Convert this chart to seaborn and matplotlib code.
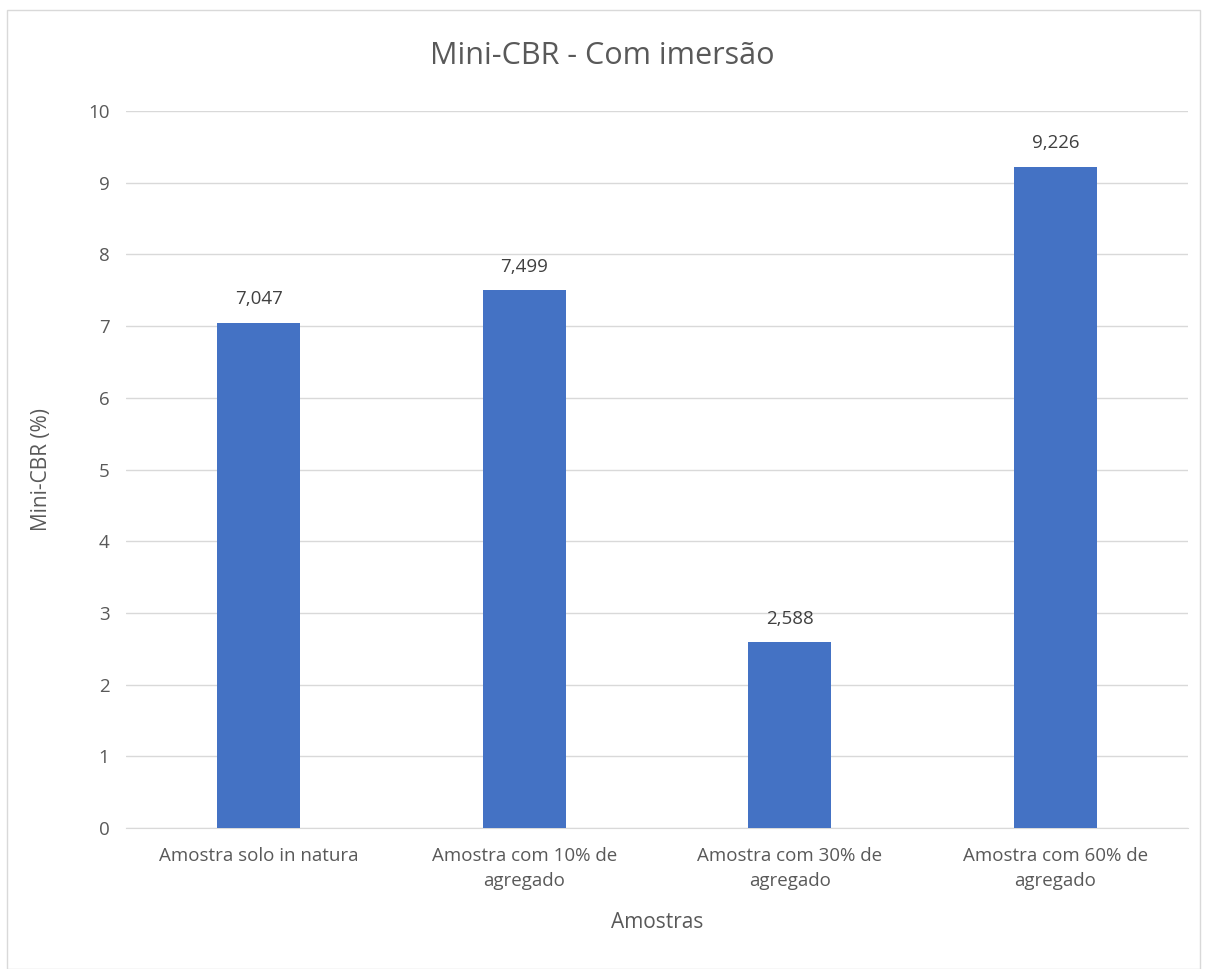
import matplotlib
matplotlib.use("Agg")
import matplotlib.pyplot as plt
import seaborn as sns
import pandas as pd
from matplotlib.patches import Rectangle

# Data
amostras = ["Amostra solo in natura", "Amostra com 10% de\nagregado",
            "Amostra com 30% de\nagregado", "Amostra com 60% de\nagregado"]
mini_cbr = [7.047, 7.499, 2.588, 9.226]
y_ticks = [0, 1, 2, 3, 4, 5, 6, 7, 8, 9, 10]

df = pd.DataFrame({"Amostras": amostras, "Mini-CBR": mini_cbr})

sns.set_style("white")
plt.rcParams['font.family'] = ['Open Sans', 'DejaVu Sans']
txt = "#595959"

fig = plt.figure(figsize=(12.05, 9.69), dpi=100)
ax = fig.add_axes([0.1046, 0.1455, 0.8814, 0.7399])

sns.barplot(data=df, x="Amostras", y="Mini-CBR", color="#4472C4",
            width=0.313, saturation=1, linewidth=0, ax=ax, zorder=3)

# Value labels with comma decimal separator
for i, v in enumerate(mini_cbr):
    ax.text(i, v + 0.2, f"{v:.3f}".replace(".", ","), ha="center", va="bottom",
            fontsize=13.5, color="#404040")

ax.set_ylim(0, 10)
ax.set_yticks(y_ticks)
ax.set_xlim(-0.5, 3.5)
ax.yaxis.grid(True, color="#D9D9D9", linewidth=1, zorder=0)
ax.xaxis.grid(False)
for s in ["top", "right", "left"]:
    ax.spines[s].set_visible(False)
ax.spines["bottom"].set_color("#D9D9D9")
ax.tick_params(axis="both", length=0, labelsize=13.5, labelcolor=txt, pad=12)
ax.tick_params(axis="x", pad=14)
for lbl in ax.get_xticklabels():
    lbl.set_linespacing(1.45)

ax.set_xlabel("Amostras", fontsize=15, color=txt, labelpad=16)
ax.set_ylabel("Mini-CBR (%)", fontsize=15, color=txt, labelpad=26)
fig.suptitle("Mini-CBR - Com imersão", fontsize=22, color=txt, y=0.958)

# Light chart border
fig.patches.append(Rectangle((0.006, 0.0), 0.99, 0.99, transform=fig.transFigure,
                             fill=False, edgecolor="#D9D9D9", linewidth=1))

fig.savefig("out.png", dpi=100)
